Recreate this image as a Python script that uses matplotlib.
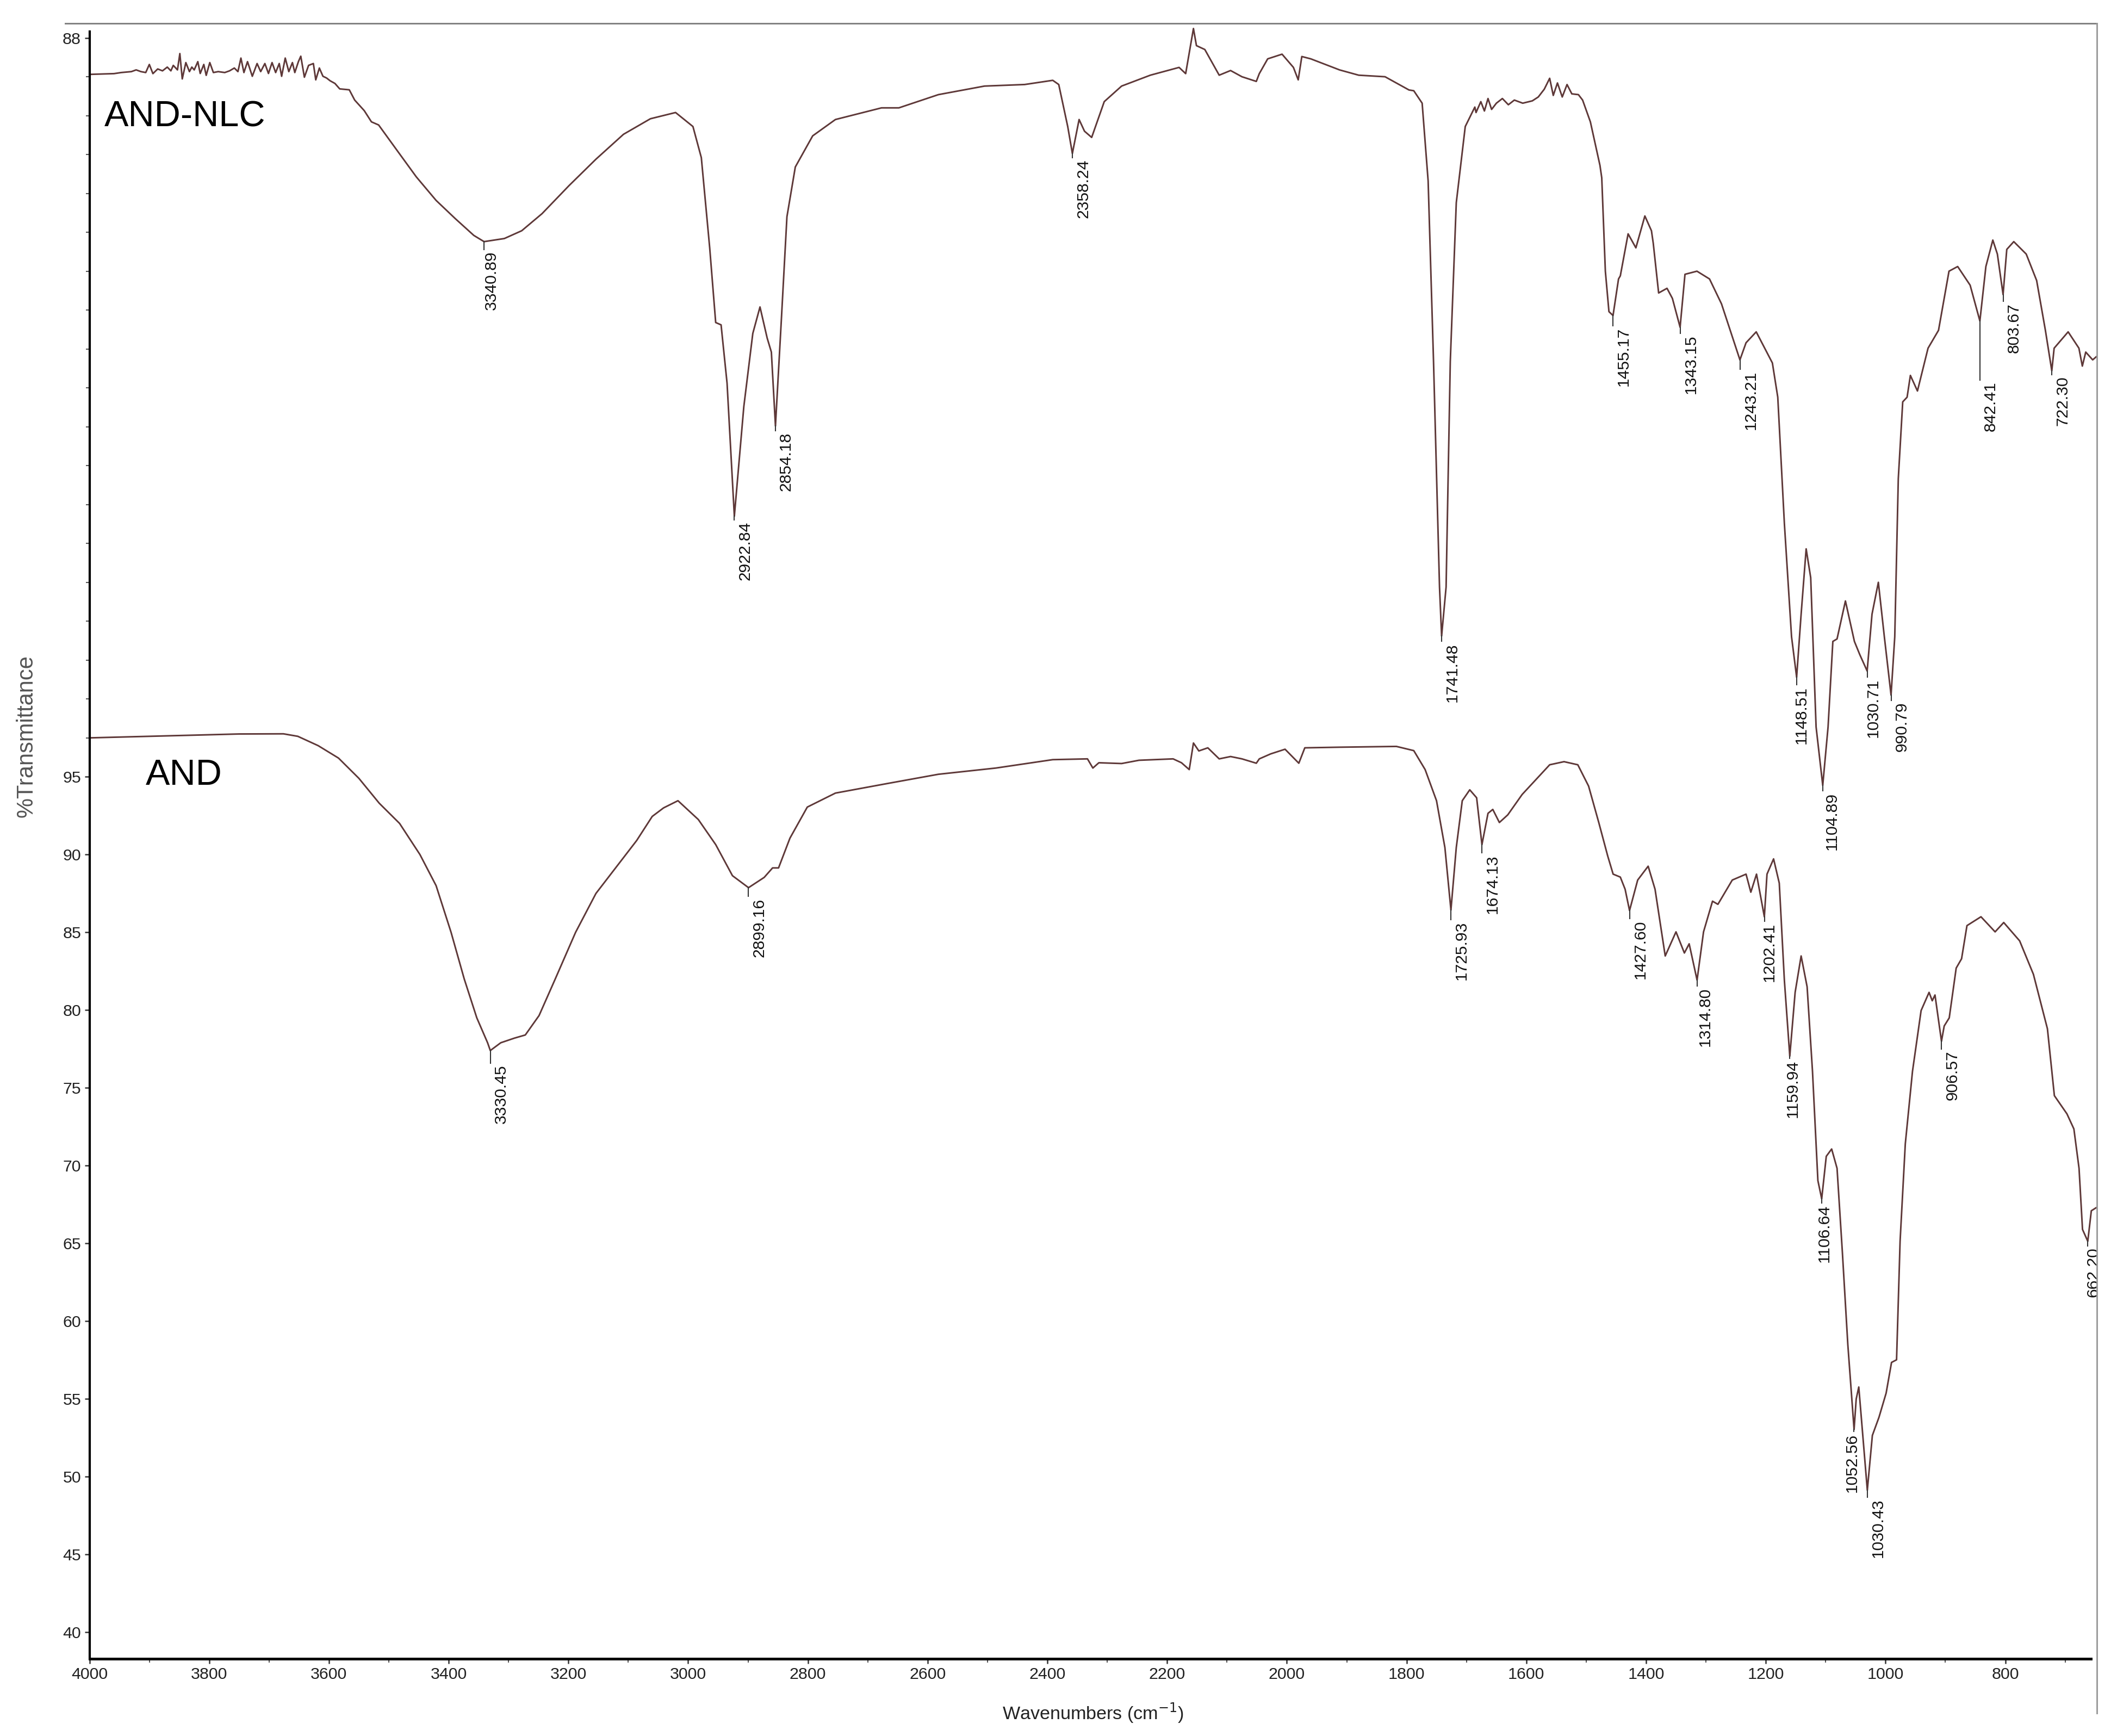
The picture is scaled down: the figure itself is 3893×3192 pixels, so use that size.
import matplotlib
matplotlib.use("Agg")
import matplotlib.pyplot as plt
from matplotlib import font_manager
from matplotlib.lines import Line2D
from matplotlib.transforms import offset_copy

plt.rcParams['font.family'] = ['Liberation Sans', 'DejaVu Sans']

# AND-NLC spectrum (drawn on the stacked %T scale, offset above AND)
wn_nlc = [4000, 3993, 3959, 3947, 3930, 3922, 3914, 3906, 3900, 3894, 3886, 3878, 3870, 3864,
          3860, 3853, 3849, 3845, 3839, 3833, 3829, 3825, 3819, 3815, 3809, 3805, 3799, 3793,
          3785, 3774, 3766, 3758, 3752, 3747, 3742, 3736, 3728, 3720, 3714, 3707, 3701, 3695,
          3689, 3683, 3679, 3673, 3667, 3661, 3657, 3651, 3647, 3641, 3634, 3626, 3622, 3616,
          3610, 3604, 3598, 3590, 3582, 3566, 3557, 3541, 3529, 3517, 3485, 3454, 3421, 3389,
          3358, 3340.89, 3307, 3278, 3244, 3199, 3154, 3108, 3063, 3021, 2992, 2978,
          2964, 2954, 2945, 2935, 2922.84, 2907, 2892, 2880, 2868, 2861, 2854.18, 2844, 2835,
          2821, 2792, 2754, 2677, 2648, 2582, 2505, 2438, 2391, 2381, 2366, 2358.24, 2347,
          2338, 2326, 2305, 2276, 2228, 2180, 2169, 2156, 2151, 2137, 2113, 2094, 2075, 2051,
          2046, 2032, 2008, 1989, 1981, 1975, 1960, 1912, 1880, 1836, 1796, 1788, 1774, 1764,
          1755, 1745, 1741.48, 1734, 1727, 1717, 1702, 1686, 1684, 1676, 1670, 1664, 1658,
          1650, 1640, 1630, 1620, 1606, 1590, 1580, 1570, 1561, 1555, 1548, 1540, 1532, 1524,
          1513, 1506, 1493, 1477, 1474, 1468, 1462, 1455.17, 1446, 1443, 1430, 1417, 1402,
          1391, 1388, 1379, 1365, 1356, 1343.15, 1335, 1315, 1294, 1274, 1243.21, 1233, 1216,
          1189, 1180, 1169, 1157, 1148.51, 1141, 1132.6, 1125, 1116, 1104.89, 1096, 1088,
          1081, 1067, 1052, 1043, 1030.71, 1022.6, 1012, 1002, 990.79, 984.6, 978.7, 971.3,
          964, 958.5, 946.7, 929, 911.5, 894, 879.5, 858.7, 842.41, 832.4, 820.8, 813.2,
          803.67, 797.5, 785.8, 765, 747.6, 733, 722.3, 718.4, 695, 677, 671.3, 665.6, 654,
          648]
t_nlc = [140.15, 140.16, 140.2, 140.27, 140.33, 140.44, 140.33, 140.27, 140.79, 140.2, 140.5,
         140.38, 140.62, 140.38, 140.73, 140.44, 141.49, 139.86, 140.91, 140.33, 140.62,
         140.44, 140.97, 140.21, 140.79, 140.09, 140.91, 140.27, 140.33, 140.27, 140.38,
         140.56, 140.33, 141.2, 140.27, 140.97, 140.03, 140.85, 140.33, 140.85, 140.21,
         140.91, 140.27, 140.85, 140.03, 141.2, 140.33, 140.91, 140.27, 140.97, 141.32,
         139.97, 140.73, 140.85, 139.8, 140.56, 140.03, 139.92, 139.74, 139.57, 139.22,
         139.16, 138.5, 137.82, 137.1, 136.9, 135.2, 133.56, 132.05, 130.88, 129.8, 129.4,
         129.6, 130.1, 131.2, 133.0, 134.7, 136.3, 137.3, 137.7, 136.8, 134.8, 129.0,
         124.2, 124.05, 120.3, 111.75, 118.8, 123.5, 125.2, 123.2, 122.3, 117.55, 124.6,
         131.0, 134.2, 136.2, 137.25, 138.0, 138.0, 138.85, 139.4, 139.5, 139.77, 139.5,
         136.8, 135.07, 137.25, 136.5, 136.1, 138.4, 139.4, 140.1, 140.6, 140.2, 143.1, 142.0,
         141.75, 140.1, 140.4, 140.0, 139.7, 140.2, 141.15, 141.45, 140.6, 139.8, 141.3,
         141.15, 140.44, 140.1, 140.0, 139.15, 139.1, 138.3, 133.3, 121.7, 107.2, 104.05,
         107.2, 121.7, 131.9, 136.8, 138.05, 137.7, 138.4, 137.8, 138.6, 137.9, 138.3, 138.6,
         138.2, 138.5, 138.3, 138.45, 138.7, 139.2, 139.9, 138.8, 139.6, 138.7, 139.5, 138.9,
         138.85, 138.5, 137.1, 134.3, 133.5, 127.5, 124.9, 124.65, 127.0, 127.2, 129.9,
         129.0, 131.05, 130.1, 129.3, 126.1, 126.4, 125.75, 123.9, 127.3, 127.5, 127.0, 125.4,
         121.8, 122.9, 123.6, 121.6, 119.4, 111.3, 104.0, 101.4, 105.45, 109.65, 107.8, 98.2,
         94.45, 98.2, 103.7, 103.86, 106.3, 103.7, 102.85, 101.8, 105.45, 107.5, 104.0,
         100.25, 104.0, 114.16, 119.1, 119.4, 120.8, 119.8, 122.55, 123.7, 127.5, 127.8,
         126.6, 124.3, 127.8, 129.5, 128.6, 126.0, 128.9, 129.4, 128.6, 126.9, 123.7, 121.1,
         122.55, 123.6, 122.55, 121.4, 122.3, 121.8, 122.0]

# AND spectrum
wn_and = [4000, 3950, 3850, 3750, 3676, 3652, 3618, 3584, 3550, 3516, 3482, 3448, 3421, 3396,
          3374, 3353, 3335, 3330.45, 3313, 3290, 3272, 3249, 3222, 3188, 3154, 3120, 3086,
          3060, 3041, 3017, 2983, 2954, 2926, 2899.16, 2873, 2859, 2849, 2830, 2801, 2754,
          2668, 2582, 2486, 2391, 2333, 2324, 2314, 2276, 2247, 2190, 2176, 2163, 2156, 2147,
          2132, 2113, 2094, 2075, 2051, 2046, 2027, 2003, 1991, 1980, 1970, 1912, 1817, 1788,
          1769, 1750, 1736, 1725.93, 1717, 1707, 1694.5, 1683, 1674.13, 1664, 1656, 1645,
          1631, 1607, 1561, 1537, 1514, 1496, 1479, 1464, 1455, 1443, 1435, 1427.6, 1414,
          1396.5, 1385, 1368, 1350, 1336, 1328, 1314.8, 1304, 1289, 1280, 1256, 1233, 1225,
          1215.5, 1202.41, 1198, 1187, 1177.5, 1169, 1159.94, 1151, 1141, 1131, 1122, 1113,
          1106.64, 1099, 1090, 1081, 1072, 1063, 1052.56, 1049, 1044.7, 1038, 1030.43, 1022,
          1011, 999, 990, 981.6, 975.7, 967, 955, 940.6, 927.3, 922, 917.4, 906.57, 902, 893.6,
          882, 873, 864, 840.6, 817, 802.6, 776, 753, 729.6, 718, 697, 685.4, 676.8, 671,
          662.2, 656.3, 648]
t_and = [97.5, 97.55, 97.65, 97.75, 97.76, 97.6, 97.0, 96.2, 94.9, 93.3, 92.0, 90.0, 88.0,
         85.0, 82.0, 79.5, 77.9, 77.4, 77.9, 78.2, 78.4, 79.65, 82.0, 85.0, 87.5, 89.2, 90.9,
         92.45, 93.0, 93.46, 92.25, 90.64, 88.64, 87.87, 88.53, 89.14, 89.14, 91.05, 93.05,
         93.95, 94.56, 95.16, 95.56, 96.1, 96.15, 95.56, 95.9, 95.85, 96.06, 96.15, 95.9,
         95.46, 97.17, 96.66, 96.86, 96.15, 96.3, 96.15, 95.87, 96.15, 96.47, 96.77, 96.3,
         95.87, 96.86, 96.9, 96.95, 96.68, 95.46, 93.46, 90.45, 86.43, 90.45, 93.46, 94.16,
         93.65, 90.64, 92.65, 92.9, 92.06, 92.55, 93.86, 95.77, 95.97, 95.77, 94.4, 92.06,
         89.9, 88.74, 88.55, 87.77, 86.4, 88.36, 89.25, 87.77, 83.48, 85.03, 83.67, 84.26,
         81.93, 85.03, 87.0, 86.8, 88.36, 88.74, 87.58, 88.74, 86.0, 88.74, 89.72, 88.16,
         81.93, 77.04, 81.14, 83.48, 81.5, 76.06, 69.04, 67.87, 70.6, 71.07, 69.83, 64.37,
         58.5, 53.04, 55.0, 55.77, 52.66, 49.14, 52.66, 53.82, 55.38, 57.35, 57.52, 65.14,
         71.4, 76.06, 79.97, 81.14, 80.6, 80.97, 78.0, 78.98, 79.5, 82.7, 83.3, 85.43, 86.0,
         85.03, 85.63, 84.45, 82.3, 78.8, 74.5, 73.33, 72.36, 69.83, 65.9, 65.14, 67.1, 67.3]

# peak labels: text, %T at the minimum, %T where the label starts
nlc_peaks = ["3340.89", "2922.84", "2854.18", "2358.24", "1741.48", "1455.17", "1343.15",
             "1243.21", "1148.51", "1104.89", "1030.71", "990.79", "842.41", "803.67", "722.30"]
nlc_peak_t = [129.4, 111.75, 117.55, 135.07, 104.05, 124.65, 123.9, 121.8, 101.4, 94.45,
              101.8, 100.25, 124.3, 126.0, 121.1]
nlc_label_t = [128.8, 111.4, 117.15, 134.7, 103.6, 123.9, 123.4, 121.1, 100.8, 94.0, 101.3,
               99.8, 120.4, 125.45, 120.75]

and_peaks = ["3330.45", "2899.16", "1725.93", "1674.13", "1427.60", "1314.80", "1202.41",
             "1159.94", "1106.64", "1052.56", "1030.43", "906.57", "662.20"]
and_peak_t = [77.4, 87.87, 86.43, 90.64, 86.4, 81.93, 86.0, 77.04, 67.87, 53.04, 49.14,
              78.0, 65.14]
and_label_t = [76.5, 87.2, 85.7, 90.0, 85.8, 81.45, 85.6, 76.8, 67.5, 52.8, 48.6, 77.4, 64.75]

# horizontal shift of a few labels relative to their tick line (pixels)
label_shift = {"3340.89": 14, "1148.51": 9, "1104.89": 17, "1030.71": 11, "1314.80": 15,
               "1202.41": 9, "1159.94": 5, "1106.64": 5, "1052.56": -4, "662.20": 10}

W, H, DPI = 3893, 3192, 300
fig = plt.figure(figsize=(W / DPI, H / DPI), dpi=DPI)
ax = fig.add_axes([164.5 / W, 1 - 3050 / H, (3856 - 164.5) / W, (3050 - 43) / H])

line_color = '#5e3838'
ax.plot(wn_nlc, t_nlc, color=line_color, lw=0.7)
ax.plot(wn_and, t_and, color=line_color, lw=0.7)

ax.set_xlim(4000, 647)
ax.set_ylim(38.3, 143.43)

names = {f.name for f in font_manager.fontManager.ttflist}
if 'Liberation Sans Narrow' in names:
    lab_font, lab_size = 'Liberation Sans Narrow', 8.7
else:
    lab_font, lab_size = 'Liberation Sans', 7.2

px = 72.0 / DPI
for peaks, pt, lt in [(nlc_peaks, nlc_peak_t, nlc_label_t), (and_peaks, and_peak_t, and_label_t)]:
    for lab, y0, y1 in zip(peaks, pt, lt):
        x = float(lab)
        ax.plot([x, x], [y0, y1 + 0.1], color='#333333', lw=0.5, clip_on=True)
        tr = offset_copy(ax.transData, fig=fig, x=label_shift.get(lab, 20) * px, y=0, units='points')
        ax.text(x, y1, lab, transform=tr, rotation=90, ha='center', va='top',
                fontsize=lab_size, family=lab_font, color='#111111', clip_on=True)

ax.text(3975, 136.8, 'AND-NLC', fontsize=16, ha='left', va='baseline', color='black')
ax.text(3906, 94.5, 'AND', fontsize=16, ha='left', va='baseline', color='black')

# axes styling
ax.set_xticks(range(4000, 799, -200))
ax.set_xticks(range(3900, 699, -100), minor=True)
yt = list(range(40, 96, 5)) + [142.5]
ax.set_yticks(yt)
ax.set_yticklabels([str(v) for v in range(40, 96, 5)] + ['88'])
ax.set_yticks([95 + 2.5 * k for k in range(1, 19)], minor=True)
ax.tick_params(axis='both', which='major', direction='out', length=2.2, width=0.6,
               labelsize=7.3, labelcolor='#222222', color='#333333', pad=1.5)
ax.tick_params(axis='both', which='minor', direction='out', length=1.6, width=0.5,
               color='#555555')

ax.spines['top'].set_visible(False)
ax.spines['right'].set_visible(False)
ax.spines['left'].set_linewidth(1.0)
ax.spines['left'].set_bounds(38.3, 142.9)
ax.spines['bottom'].set_linewidth(1.2)
ax.spines['bottom'].set_bounds(4000, 657)

# instrument frame lines (top and right, slightly overhanging)
fig.add_artist(Line2D([120 / W, 3856 / W], [1 - 43 / H, 1 - 43 / H], color='#808080', lw=0.7))
fig.add_artist(Line2D([3856 / W, 3856 / W], [1 - 43 / H, 1 - 3150 / H], color='#9a9a9a', lw=0.7))

ax.set_xlabel('Wavenumbers (cm$^{-1}$)', fontsize=8.2, color='#222222')
ax.xaxis.set_label_coords(0.5, -0.026)
ax.set_ylabel('%Transmittance', fontsize=10, color='#555555')
ax.yaxis.set_label_coords(-0.026, 0.564)

fig.savefig('out.png', dpi=DPI)
